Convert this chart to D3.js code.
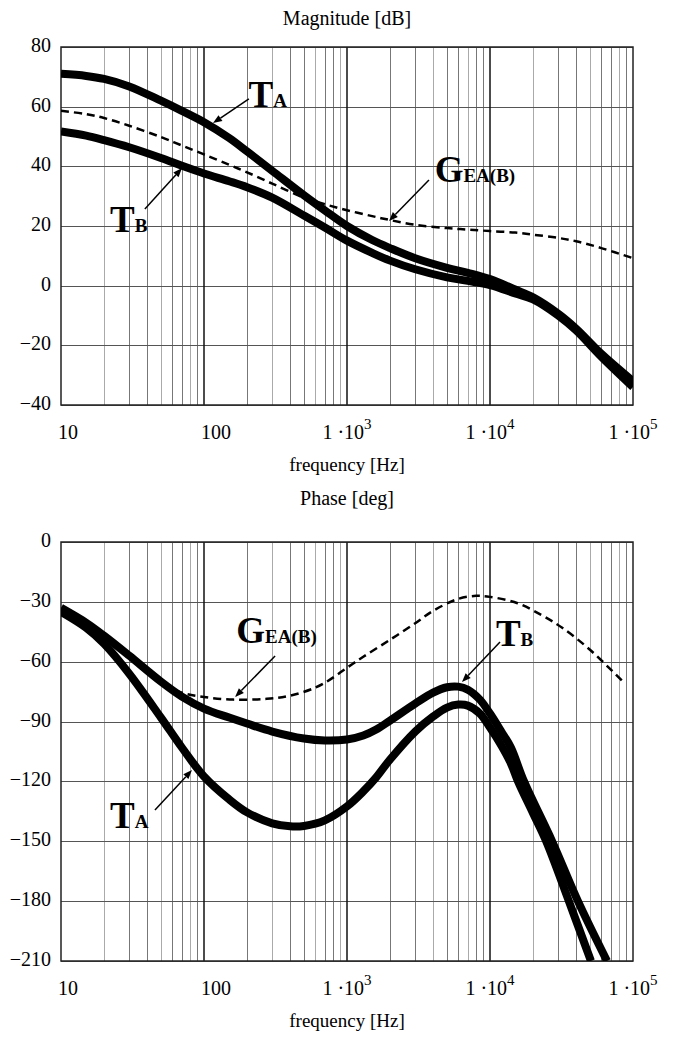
<!DOCTYPE html>
<html>
<head>
<meta charset="utf-8">
<script src="https://cdn.jsdelivr.net/npm/d3@7/dist/d3.min.js"></script>
<style>
    body { margin: 0; background: #fff; }
    text { font-family: "Liberation Serif", "Times New Roman", serif; fill: #000; }
</style>
</head>
<body>
<div id="vis"></div>
<script>
// Constants
const W = 674;
const H = 1038;
const plotLeft = 61;
const plotRight = 633;

// ---- data ----
// magnitude [dB]
const freqMag = [10, 15, 20, 30, 50, 70, 100, 150, 200, 300, 500, 700, 1000, 1500, 2000, 3000, 5000, 7000, 10000, 15000, 20000, 30000, 40000, 60000, 100000];
const magTA  = [71, 70.3, 69.3, 66.8, 62, 58.6, 54.8, 49.5, 45, 38.5, 30.3, 25.2, 20, 15.3, 12.6, 9.2, 6, 4.3, 2.2, -1.3, -3.9, -9.4, -14.4, -22.8, -32];
const magTB  = [51.7, 50.3, 48.8, 46.4, 42.8, 40.2, 37.6, 35, 33, 29.5, 23.5, 19.5, 15.1, 11, 8.4, 5.5, 2.8, 1.6, 0.2, -2.6, -4.6, -10, -15, -23.8, -34];
const magGEA = [58.6, 57.5, 56.2, 53.6, 49.8, 47, 44, 40.5, 38, 34.2, 29.5, 27.3, 25.3, 23.3, 22, 20.4, 19.3, 18.8, 18.3, 17.8, 17.1, 16, 14.9, 12.6, 9.2];

// phase [deg]
const freqPhTA = [10, 15, 20, 30, 50, 70, 100, 150, 200, 300, 400, 500, 700, 1000, 1300, 1600, 2000, 3000, 4000, 5000, 6000, 7000, 8500, 10000, 12000, 14000, 15700, 20000, 24700, 35600, 50800];
const phaseTA  = [-35, -43, -51, -66, -88, -103, -117.5, -129, -135.5, -141, -142.5, -142.3, -139.5, -132.5, -125, -118, -109, -95, -87.5, -83, -81.5, -82, -86, -93, -102, -111, -120, -136, -150, -180, -210];
const freqPhTB = [10, 15, 20, 30, 50, 70, 100, 150, 200, 300, 500, 700, 1000, 1300, 1600, 2000, 3000, 4000, 5000, 6000, 7000, 8500, 10000, 12000, 14000, 17300, 27200, 41200, 65800];
const phaseTB  = [-33, -40.5, -47, -57, -70, -77.5, -83.5, -88, -91, -95, -98.5, -99.5, -99, -97, -94, -89.5, -81, -75.5, -72.8, -72.5, -74, -79, -86, -95, -103, -120, -150, -180, -210];
const freqPhGEA = [52, 70, 100, 160, 275, 400, 600, 760, 1000, 1300, 2000, 3000, 4000, 6000, 8000, 10000, 15600, 23000, 32000, 50000, 87000];
const phaseGEA  = [-71.6, -75.5, -77.7, -79, -78.6, -77, -73, -69, -63, -57.5, -49, -40.7, -34.5, -28.5, -27, -27.5, -30.7, -36.7, -43, -54, -70.7];

// axis ticks
const magTicks = [-40, -20, 0, 20, 40, 60, 80];
const phaseTicks = [-210, -180, -150, -120, -90, -60, -30, 0];
const freqTicks = [10, 100, 1000, 10000, 100000];
const freqTickBase = ['10', '100', '1 \u00B710', '1 \u00B710', '1 \u00B710'];
const freqTickExp = ['', '', '3', '4', '5'];

// annotations: [label, subscript, textFreq, textValue, tailFreq, tailValue, headFreq, headValue]
const magNotes = [
    ['T', 'A', 205, 59.9, 206, 62.6, 115.6, 54.5],
    ['T', 'B', 22, 18.0, 38.6, 25.7, 70.2, 39.4],
    ['G', 'EA(B)', 4100, 34.7, 3742, 35.4, 1968, 21.7]
];
const phaseNotes = [
    ['G', 'EA(B)', 168, -50.6, 314, -57.1, 165, -77.7],
    ['T', 'B', 11000, -52.1, 11750, -50.1, 6370, -70.2],
    ['T', 'A', 22, -143.4, 45.4, -134.3, 82.4, -114.3]
];

const xScale = d3.scaleLog()
    .domain([10, 100000])
    .range([plotLeft, plotRight]);

const svg = d3.select('#vis')
    .append('svg')
    .attr('width', W)
    .attr('height', H);

svg.append('rect')
    .attr('width', W)
    .attr('height', H)
    .attr('fill', '#fff');

function drawPanel(opts) {
    const top = opts.top;
    const bottom = opts.top + opts.height;
    const yScale = d3.scaleLinear()
        .domain(opts.domain)
        .range([bottom, top]);

    const g = svg.append('g');

    // minor vertical grid
    let minor = [];
    for (let dec = 10; dec < 100000; dec *= 10) {
        for (let k = 2; k <= 9; k++) minor.push(dec * k);
    }
    g.selectAll('.minor')
        .data(minor)
        .join('line')
        .attr('class', 'minor')
        .attr('x1', d => Math.round(xScale(d)) + 0.5)
        .attr('x2', d => Math.round(xScale(d)) + 0.5)
        .attr('y1', top)
        .attr('y2', bottom)
        .attr('stroke', (d, i) => (i % 3 === 0 ? '#aaa' : '#777'))
        .attr('stroke-width', 1);

    // horizontal grid
    g.selectAll('.hgrid')
        .data(opts.ticks)
        .join('line')
        .attr('class', 'hgrid')
        .attr('x1', plotLeft)
        .attr('x2', plotRight)
        .attr('y1', d => Math.round(yScale(d)) + 0.5)
        .attr('y2', d => Math.round(yScale(d)) + 0.5)
        .attr('stroke', '#555')
        .attr('stroke-width', 1);

    // decade lines
    g.selectAll('.decade')
        .data(freqTicks.slice(1, -1))
        .join('line')
        .attr('class', 'decade')
        .attr('x1', d => xScale(d))
        .attr('x2', d => xScale(d))
        .attr('y1', top)
        .attr('y2', bottom)
        .attr('stroke', '#111')
        .attr('stroke-width', 1.5);

    // frame
    g.append('rect')
        .attr('x', plotLeft)
        .attr('y', top)
        .attr('width', plotRight - plotLeft)
        .attr('height', opts.height)
        .attr('fill', 'none')
        .attr('stroke', '#222')
        .attr('stroke-width', 1.5);

    // y tick labels
    g.selectAll('.ylab')
        .data(opts.ticks)
        .join('text')
        .attr('class', 'ylab')
        .attr('x', plotLeft - 10)
        .attr('y', d => yScale(d) + 5)
        .attr('text-anchor', 'end')
        .attr('font-size', 20)
        .text(d => (d < 0 ? '\u2212' + Math.abs(d) : d));

    // x tick labels (plain numbers sit a little right of their line)
    const xl = g.selectAll('.xlab')
        .data(freqTicks)
        .join('text')
        .attr('class', 'xlab')
        .attr('x', (d, i) => xScale(d) + (freqTickExp[i] ? 0 : -3))
        .attr('y', bottom + 34)
        .attr('text-anchor', (d, i) => (freqTickExp[i] ? 'middle' : 'start'))
        .attr('font-size', 20);
    xl.append('tspan').text((d, i) => freqTickBase[i]);
    xl.append('tspan')
        .attr('dy', -10)
        .attr('font-size', 15)
        .text((d, i) => freqTickExp[i]);

    // titles
    g.append('text')
        .attr('x', (plotLeft + plotRight) / 2)
        .attr('y', opts.titleY)
        .attr('text-anchor', 'middle')
        .attr('font-size', 20)
        .text(opts.title);

    g.append('text')
        .attr('x', (plotLeft + plotRight) / 2)
        .attr('y', bottom + 66)
        .attr('text-anchor', 'middle')
        .attr('font-size', 19)
        .text('frequency [Hz]');

    // curves
    const clipId = 'clip' + top;
    svg.append('clipPath')
        .attr('id', clipId)
        .append('rect')
        .attr('x', plotLeft)
        .attr('y', top)
        .attr('width', plotRight - plotLeft)
        .attr('height', opts.height);

    const line = d3.line()
        .x(d => xScale(d[0]))
        .y(d => yScale(d[1]))
        .curve(d3.curveCatmullRom.alpha(0.5));

    const cg = svg.append('g').attr('clip-path', `url(#${clipId})`);
    opts.series.forEach(s => {
        cg.append('path')
            .datum(d3.zip(s.freq, s.values))
            .attr('d', line)
            .attr('fill', 'none')
            .attr('stroke', '#000')
            .attr('stroke-width', s.dashed ? 2.5 : 8)
            .attr('stroke-dasharray', s.dashed ? '8,5' : null)
            .attr('stroke-linejoin', 'round');
    });

    // annotations
    opts.notes.forEach(n => {
        const tx = xScale(n[4]), ty = yScale(n[5]);
        const hx = xScale(n[6]), hy = yScale(n[7]);
        const len = Math.hypot(hx - tx, hy - ty);
        const ux = (hx - tx) / len, uy = (hy - ty) / len;
        const bx = hx - ux * 9, by = hy - uy * 9;
        svg.append('line')
            .attr('x1', tx).attr('y1', ty)
            .attr('x2', bx).attr('y2', by)
            .attr('stroke', '#000')
            .attr('stroke-width', 1.5);
        svg.append('path')
            .attr('d', `M${hx},${hy}L${bx - uy * 3.5},${by + ux * 3.5}L${bx + uy * 3.5},${by - ux * 3.5}Z`)
            .attr('fill', '#000');

        const t = svg.append('text')
            .attr('x', xScale(n[2]))
            .attr('y', yScale(n[3]))
            .attr('font-weight', 'bold');
        t.append('tspan')
            .attr('font-size', 37)
            .text(n[0]);
        t.append('tspan')
            .attr('font-size', 19)
            .text(n[1]);
    });
}

drawPanel({
    top: 47,
    height: 358,
    domain: [-40, 80],
    ticks: magTicks,
    title: 'Magnitude [dB]',
    titleY: 25,
    series: [
        { freq: freqMag, values: magGEA, dashed: true },
        { freq: freqMag, values: magTB },
        { freq: freqMag, values: magTA }
    ],
    notes: magNotes
});

drawPanel({
    top: 542,
    height: 419,
    domain: [-210, 0],
    ticks: phaseTicks,
    title: 'Phase [deg]',
    titleY: 505,
    series: [
        { freq: freqPhGEA, values: phaseGEA, dashed: true },
        { freq: freqPhTB, values: phaseTB },
        { freq: freqPhTA, values: phaseTA }
    ],
    notes: phaseNotes
});
</script>
</body>
</html>
